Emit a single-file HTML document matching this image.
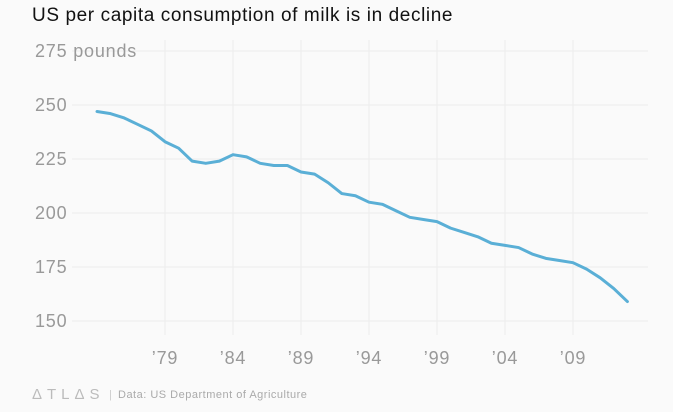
<!DOCTYPE html>
<html><head><meta charset="utf-8"><style>
body{margin:0;width:673px;height:412px;background:#fafafa;font-family:"Liberation Sans",sans-serif;overflow:hidden;position:relative}
.t{position:absolute;left:32px;top:5px;font-size:19px;letter-spacing:0.6px;color:#111;white-space:nowrap}
.f{position:absolute;top:389px;font-size:11px;letter-spacing:0.5px;color:#aaa;white-space:nowrap}
</style></head><body>
<div class="t">US per capita consumption of milk is in decline</div>
<svg id="c" width="673" height="412" style="position:absolute;left:0;top:0"></svg>
<div class="f" style="left:32px;font-size:15px;letter-spacing:5px;top:386px;color:#bbb">ΔTLΔS</div>
<div class="f" style="left:109px;color:#ccc">|</div>
<div class="f" style="left:118px">Data: US Department of Agriculture</div>
<script>
const years=[1974,1975,1976,1977,1978,1979,1980,1981,1982,1983,1984,1985,1986,1987,1988,1989,1990,1991,1992,1993,1994,1995,1996,1997,1998,1999,2000,2001,2002,2003,2004,2005,2006,2007,2008,2009,2010,2011,2012,2013];
const values=[247,246,244,241,238,233,230,224,223,224,227,226,223,222,222,219,218,214,209,208,205,204,201,198,197,196,193,191,189,186,185,184,181,179,178,177,174,170,165,159];
const yTicks=[150,175,200,225,250,275];
const xTicks=[1979,1984,1989,1994,1999,2004,2009];
const xTickLabels=["’79","’84","’89","’94","’99","’04","’09"];
const NS="http://www.w3.org/2000/svg",svg=document.getElementById('c');
const x=v=>165+(v-1979)*13.6, y=v=>321-(v-150)*54/25;
function mk(t,a){const e=document.createElementNS(NS,t);for(const k in a)e.setAttribute(k,a[k]);svg.appendChild(e);return e;}
yTicks.forEach(v=>{
 const l=mk('line',{x1:72,x2:648,y1:y(v),y2:y(v),stroke:'#ececec','stroke-width':1});
 
 
 const t=mk('text',{x:35,y:y(v)+6,'font-size':18,'letter-spacing':0.8,fill:'#999','font-family':'Liberation Sans, sans-serif'});
 t.textContent=v===275?'275 pounds':v;
 
 
});
xTicks.forEach((v,i)=>{
 const l=mk('line',{x1:x(v),x2:x(v),y1:40,y2:335,stroke:'#ececec','stroke-width':1});
 
 
 const t=mk('text',{x:x(v),y:364,'font-size':18,'letter-spacing':0.8,fill:'#999','text-anchor':'middle','font-family':'Liberation Sans, sans-serif'});
 t.textContent=xTickLabels[i];
 
 
});
const p=mk('polyline',{points:years.map((yr,i)=>x(yr)+','+y(values[i])).join(' '),fill:'none',stroke:'#5aafd6','stroke-width':3,'stroke-linejoin':'round','stroke-linecap':'round'});


</script>
</body></html>
